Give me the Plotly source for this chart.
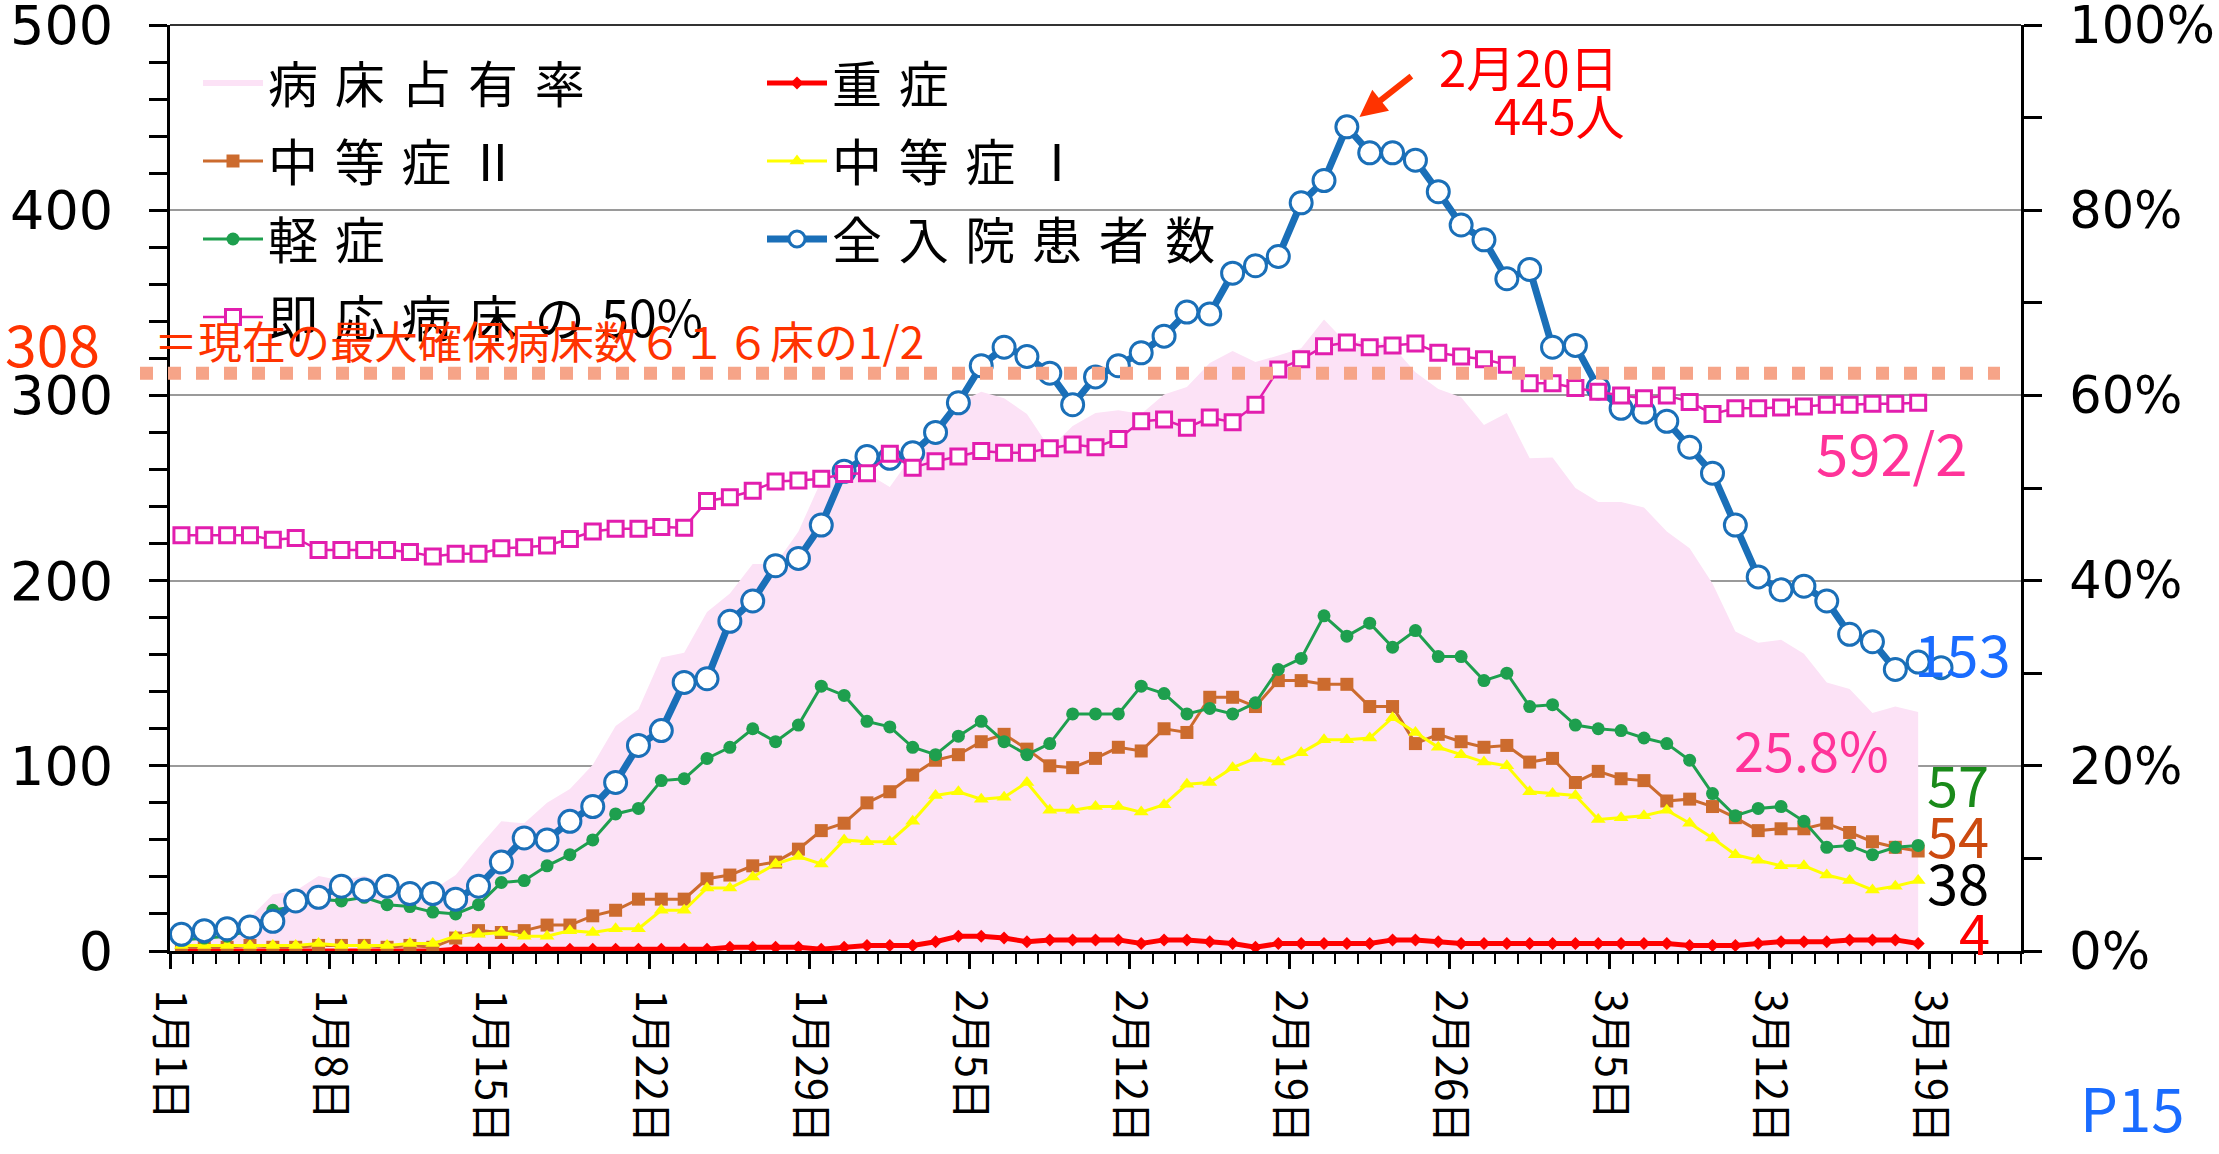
import pandas as pd
import plotly.graph_objects as go

# ---------------- data ----------------
start = "2021-01-01 12:00"
dates = pd.date_range(start, periods=77, freq="D")          # Jan 1 - Mar 18
dates_total = pd.date_range(start, periods=78, freq="D")    # Jan 1 - Mar 19

severe = [0, 0, 0, 0, 0, 0, 0, 0, 0, 0, 0, 0, 1, 1, 1, 1, 1, 1, 1, 1,
          1, 1, 1, 1, 2, 2, 2, 2, 1, 2, 3, 3, 3, 5, 8, 8, 7, 5, 6, 6,
          6, 6, 4, 6, 6, 5, 4, 2, 4, 4, 4, 4, 4, 6, 6, 5, 4, 4, 4, 4,
          4, 4, 4, 4, 4, 4, 3, 3, 3, 4, 5, 5, 5, 6, 6, 6, 4]
moderate2 = [2, 2, 2, 3, 2, 2, 3, 3, 3, 2, 3, 2, 7, 11, 10, 11, 14, 14, 19, 22,
             28, 28, 28, 39, 41, 46, 48, 55, 65, 69, 80, 86, 95, 103, 106, 113, 117, 109, 100, 99,
             104, 110, 108, 120, 118, 137, 137, 132, 146, 146, 144, 144, 132, 132, 112, 117, 113, 110, 111, 102,
             104, 91, 97, 93, 92, 81, 82, 78, 72, 65, 66, 66, 69, 64, 59, 56, 54]
moderate1 = [3, 3, 3, 3, 3, 3, 4, 3, 3, 3, 4, 4, 8, 9, 10, 8, 8, 11, 10, 12,
             12, 22, 22, 34, 34, 40, 47, 51, 47, 60, 59, 59, 70, 84, 86, 82, 83, 91, 76, 76,
             78, 78, 75, 79, 90, 91, 99, 104, 102, 107, 114, 114, 115, 126, 118, 110, 106, 102, 100, 86,
             85, 84, 71, 72, 73, 76, 69, 61, 52, 49, 46, 46, 41, 38, 33, 35, 38]
mild = [6, 7, 8, 11, 22, 24, 28, 27, 29, 25, 24, 21, 20, 25, 37, 38, 46, 52, 60, 74,
        77, 92, 93, 104, 110, 120, 113, 122, 143, 138, 124, 121, 110, 106, 116, 124, 113, 106, 112, 128,
        128, 128, 143, 139, 128, 131, 128, 134, 152, 158, 181, 170, 177, 164, 173, 159, 159, 146, 150, 132,
        133, 122, 120, 119, 115, 112, 103, 85, 73, 77, 78, 70, 56, 57, 52, 56, 57]
total = [9, 11, 12, 13, 16, 27, 29, 35, 33, 35, 31, 31, 28, 35, 48, 61, 60, 70, 78, 91,
         111, 119, 145, 147, 178, 189, 208, 212, 230, 259, 267, 266, 269, 280, 296, 316, 326, 321, 312, 295,
         310, 316, 323, 332, 345, 344, 366, 370, 375, 404, 416, 445, 431, 431, 427, 410, 392, 384, 363, 368,
         326, 327, 304, 293, 291, 286, 272, 258, 230, 202, 195, 197, 189, 171, 167, 152, 156, 153]
half_beds = [224.5, 224.5, 224.5, 224.5, 222, 223, 216.5, 216.5, 216.5, 216.5,
             215.5, 213, 214.5, 214.5, 217.5, 218, 219, 222.5, 226.5, 228,
             228, 229, 228.5, 243, 245, 248.5, 253.5, 254, 255, 257.5,
             258, 268.5, 261, 264.5, 267, 270, 269, 269, 271.5, 273.5,
             272, 276.5, 286, 287, 282.5, 288, 285.5, 295, 314, 319.5,
             326.5, 328.5, 326, 327, 328, 323, 321, 319.5, 316.5, 306.5,
             306.5, 304, 302, 300, 298.5, 300, 296.5, 290, 293, 293,
             293.5, 294, 295, 295, 295.5, 295.5, 296]
occupancy = [2.4, 2.7, 2.9, 3.6, 6.1, 6.5, 8.1, 7.6, 8.1, 7.2,
             7.2, 6.6, 8.2, 11.2, 14.0, 13.8, 16.0, 17.5, 20.1, 24.3,
             26.1, 31.7, 32.2, 36.6, 38.6, 41.8, 41.8, 45.3, 50.8, 51.8,
             51.6, 50.1, 53.6, 56.0, 59.2, 60.4, 59.7, 58.0, 54.3, 56.7,
             58.1, 58.4, 58.0, 60.1, 60.9, 63.5, 64.8, 63.6, 64.3, 65.1,
             68.2, 65.6, 66.1, 65.3, 62.5, 60.7, 59.8, 56.8, 58.1, 53.2,
             53.3, 50.0, 48.5, 48.5, 47.9, 45.3, 43.5, 39.7, 34.5, 33.3,
             33.6, 32.1, 29.0, 28.3, 25.7, 26.4, 25.8]

tick_dates = pd.date_range("2021-01-01", "2021-03-19", freq="7D")
tick_text = [f"{d.month}月{d.day}日" for d in tick_dates]

line_level = 312       # drawn level of the "308" reference line
peak_value = 445

CJK = "Noto Sans CJK JP"
NUM = "DejaVu Sans"


def sp(s, gap="\u2004"):
    return gap.join(s)


fig = go.Figure()

fig.add_trace(go.Scatter(
    x=dates, y=occupancy, name=sp("病床占有率"), mode="none", fill="tozeroy",
    fillcolor="#FCE2F6", yaxis="y", legend="legend", legendgroup="a",
    hoverinfo="skip"))
fig.add_trace(go.Scatter(
    x=dates, y=severe, name=sp("重症"), mode="lines+markers", yaxis="y2",
    line=dict(color="#FF0000", width=5),
    marker=dict(symbol="diamond", size=10, color="#FF0000"),
    legend="legend2", legendgroup="b"))
fig.add_trace(go.Scatter(
    x=dates, y=moderate2, name=sp("中等症Ⅱ"), mode="lines+markers", yaxis="y2",
    line=dict(color="#CC6B2E", width=3),
    marker=dict(symbol="square", size=13, color="#CC6B2E"),
    legend="legend", legendgroup="c"))
fig.add_trace(go.Scatter(
    x=dates, y=moderate1, name=sp("中等症Ⅰ"), mode="lines+markers", yaxis="y2",
    line=dict(color="#FFFF00", width=3),
    marker=dict(symbol="triangle-up", size=13, color="#FFFF00"),
    legend="legend2", legendgroup="d"))
fig.add_trace(go.Scatter(
    x=dates, y=mild, name=sp("軽症"), mode="lines+markers", yaxis="y2",
    line=dict(color="#1E9F4E", width=3),
    marker=dict(symbol="circle", size=13, color="#1E9F4E"),
    legend="legend", legendgroup="e"))
fig.add_trace(go.Scatter(
    x=dates_total, y=total, name=sp("全入院患者数"), mode="lines+markers", yaxis="y2",
    line=dict(color="#1A6FB8", width=7),
    marker=dict(symbol="circle", size=22, color="white",
                line=dict(color="#1A6FB8", width=3)),
    legend="legend2", legendgroup="f"))
fig.add_trace(go.Scatter(
    x=dates, y=half_beds, name=sp("即応病床の") + "\u200450%", mode="lines+markers", yaxis="y2",
    line=dict(color="#E21EAE", width=2.5),
    marker=dict(symbol="square", size=15, color="white",
                line=dict(color="#E21EAE", width=3)),
    legend="legend", legendgroup="g"))

# ---------------- layout ----------------
L, R, T, B = 170, 198, 25, 203
W, H = 2219, 1154
PW, PH = W - L - R, H - T - B


def px(xp):
    return (xp - L) / PW


def py(yp):
    return (H - B - yp) / PH


axis_common = dict(showline=True, linecolor="black", linewidth=3,
                   ticks="outside", tickcolor="black", tickwidth=2.5,
                   zeroline=False, ticklabeloverflow="allow", automargin=False)

legend_common = dict(xanchor="left", yanchor="top", bgcolor="rgba(0,0,0,0)",
                     itemwidth=60, tracegroupgap=10, traceorder="grouped",
                     font=dict(family=CJK, size=50, color="black"))

fig.update_layout(
    width=W, height=H,
    margin=dict(l=L, r=R, t=T, b=B, pad=0, autoexpand=False),
    paper_bgcolor="white", plot_bgcolor="white",
    font=dict(family=CJK, color="black"),
    showlegend=True,
    xaxis=dict(
        type="date", range=["2021-01-01", "2021-03-23"],
        tickmode="array", tickvals=tick_dates, ticktext=tick_text,
        tickangle=90, ticklen=15, showgrid=False,
        tickfont=dict(family=CJK, size=42, color="black"),
        ticklabelstandoff=12,
        minor=dict(tick0="2021-01-01", dtick=86400000, ticks="outside",
                   ticklen=10, tickwidth=2, tickcolor="black", showgrid=False),
        **axis_common),
    yaxis=dict(
        range=[0, 100], side="right", tickmode="linear", tick0=0, dtick=20,
        ticksuffix="%", ticklen=18, showgrid=False,
        tickfont=dict(family=NUM, size=51, color="black"),
        ticklabelstandoff=17,
        minor=dict(dtick=10, ticks="outside", ticklen=18, tickwidth=2.5,
                   tickcolor="black", showgrid=False),
        **axis_common),
    yaxis2=dict(
        range=[0, 500], side="left", overlaying="y", tickmode="linear",
        tick0=0, dtick=100, ticklen=18, showgrid=True, gridcolor="#9A9A9A",
        gridwidth=1.5,
        tickfont=dict(family=NUM, size=54, color="black"),
        ticklabelstandoff=25,
        minor=dict(dtick=20, ticks="outside", ticklen=18, tickwidth=2.5,
                   tickcolor="black", showgrid=False),
        **axis_common),
    yaxis3=dict(range=[0, 500], side="left", overlaying="y", tickmode="linear",
                tick0=0, dtick=100, ticks="inside", ticklen=18, tickwidth=2.5,
                tickcolor="black", showticklabels=False, showgrid=False,
                showline=False, zeroline=False, automargin=False),
    yaxis4=dict(range=[0, 100], side="right", overlaying="y", tickmode="linear",
                tick0=0, dtick=20, ticks="inside", ticklen=18, tickwidth=2.5,
                tickcolor="black", showticklabels=False, showgrid=False,
                showline=False, zeroline=False, automargin=False),
    legend=dict(x=px(198), y=py(44), **legend_common),
    legend2=dict(x=px(762), y=py(44), **legend_common),
)

# top border line
fig.add_shape(type="line", xref="paper", yref="paper", x0=0, x1=1, y0=1, y1=1,
              line=dict(color="#333333", width=2), layer="above")

# dotted reference line (308 = half of 616 beds)
fig.add_shape(type="line", xref="paper", yref="y2", x0=px(140), x1=px(2000),
              y0=line_level, y1=line_level,
              line=dict(color="#F6A488", width=13, dash="13px,15px"),
              layer="above")

ann = []
ann.append(dict(text="308", xref="paper", yref="paper", x=px(3), y=py(342),
                xanchor="left", yanchor="middle", showarrow=False,
                font=dict(family=CJK, size=57, color="#FF3300")))
ann.append(dict(text="＝現在の最大確保病床数６１６床の1/2", xref="paper", yref="paper",
                x=px(152), y=py(340), xanchor="left", yanchor="middle",
                showarrow=False, font=dict(family=CJK, size=44, color="#FF3300")))
ann.append(dict(text="2月20日", xref="paper", yref="paper", x=px(1621), y=py(65),
                xanchor="right", yanchor="middle", showarrow=False,
                font=dict(family=CJK, size=49, color="#FF0000")))
ann.append(dict(text="445人", xref="paper", yref="paper", x=px(1627), y=py(113),
                xanchor="right", yanchor="middle", showarrow=False,
                font=dict(family=CJK, size=49, color="#FF0000")))
ann.append(dict(text="", x=dates_total[51], y=peak_value, xref="x", yref="y2",
                showarrow=True, ax=66, ay=-52, standoff=16,
                arrowhead=2, arrowsize=0.9, arrowwidth=6, arrowcolor="#FF3300"))
ann.append(dict(text="592/2", xref="paper", yref="paper", x=px(1892), y=py(451),
                xanchor="center", yanchor="middle", showarrow=False,
                font=dict(family=CJK, size=58, color="#FF3399")))
ann.append(dict(text="153", xref="paper", yref="paper", x=px(1912), y=py(652),
                xanchor="left", yanchor="middle", showarrow=False,
                font=dict(family=CJK, size=58, color="#1A6CFF")))
ann.append(dict(text="25.8%", xref="paper", yref="paper", x=px(1732), y=py(748),
                xanchor="left", yanchor="middle", showarrow=False,
                font=dict(family=CJK, size=54, color="#FF3399")))
ann.append(dict(text="57", xref="paper", yref="paper", x=px(1925), y=py(782),
                xanchor="left", yanchor="middle", showarrow=False,
                font=dict(family=CJK, size=56, color="#1A8A1A")))
ann.append(dict(text="54", xref="paper", yref="paper", x=px(1925), y=py(833),
                xanchor="left", yanchor="middle", showarrow=False,
                font=dict(family=CJK, size=56, color="#CC4A10")))
ann.append(dict(text="38", xref="paper", yref="paper", x=px(1925), y=py(880),
                xanchor="left", yanchor="middle", showarrow=False,
                font=dict(family=CJK, size=56, color="black")))
ann.append(dict(text="4", xref="paper", yref="paper", x=px(1957), y=py(930),
                xanchor="left", yanchor="middle", showarrow=False,
                font=dict(family=CJK, size=56, color="#FF0000")))
ann.append(dict(text="P15", xref="paper", yref="paper", x=px(2078), y=py(1105),
                xanchor="left", yanchor="middle", showarrow=False,
                font=dict(family=CJK, size=60, color="#1A6CFF")))
fig.update_layout(annotations=ann)

fig.write_html("out.html", config={"displayModeBar": False},
               post_script="document.body.style.margin='0';"
                           "document.body.style.overflow='hidden';")
